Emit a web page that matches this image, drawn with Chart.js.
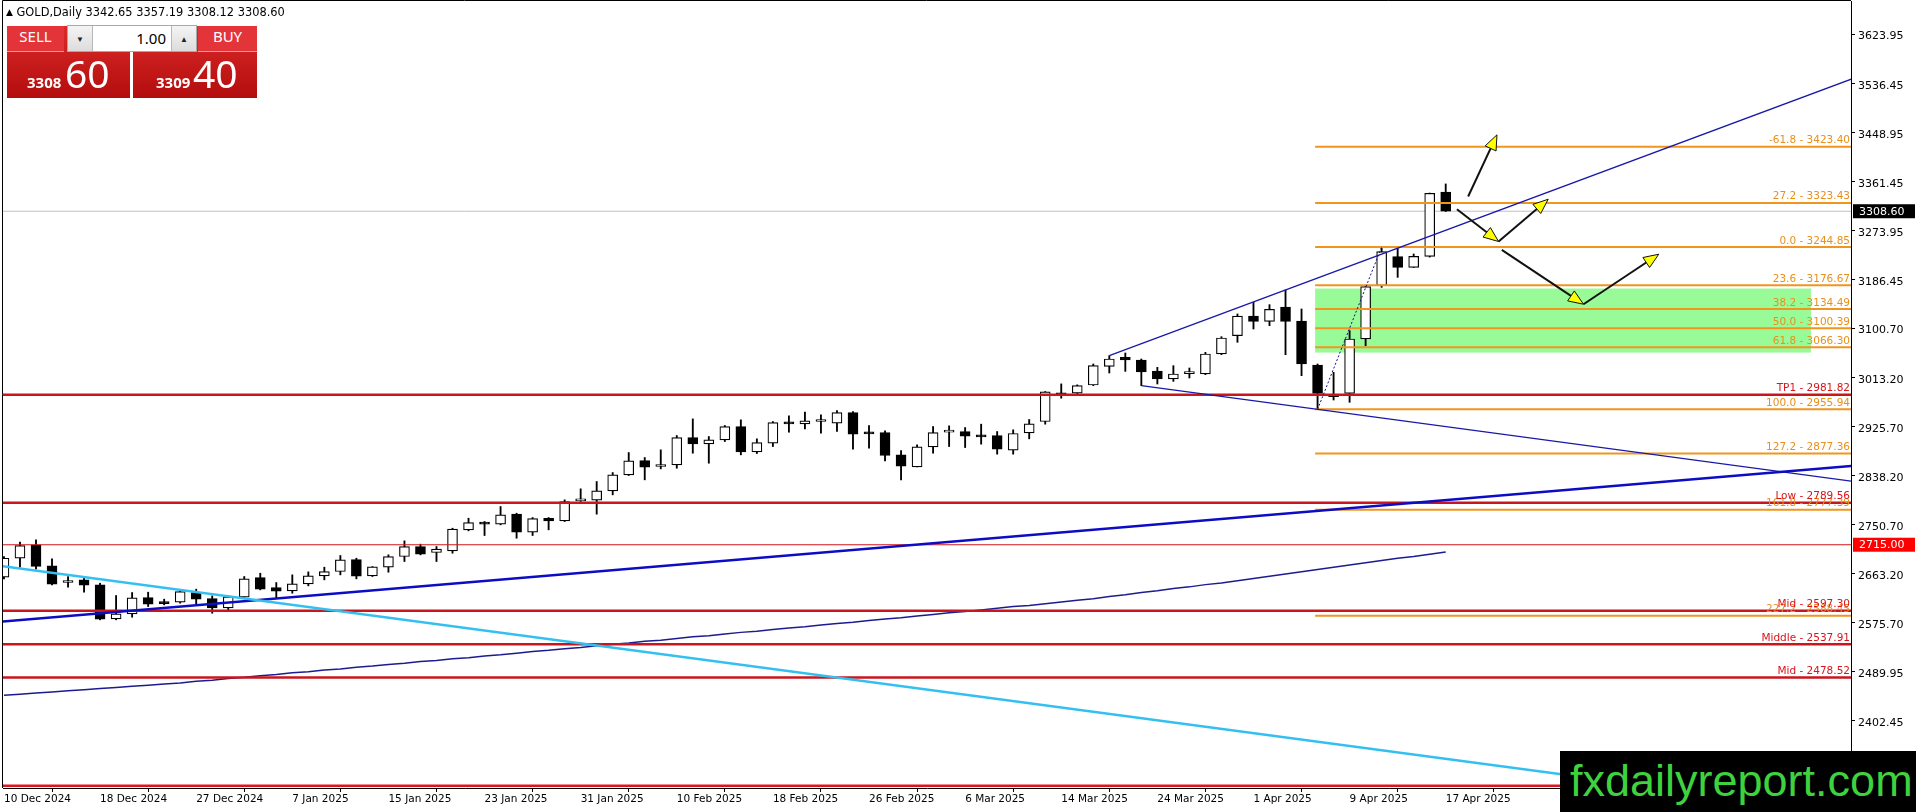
<!DOCTYPE html>
<html>
<head>
<meta charset="utf-8">
<title>GOLD Daily</title>
<script src="https://cdn.jsdelivr.net/npm/chart.js@4.4.1/dist/chart.umd.min.js"></script>
<style>
  html, body { margin: 0; padding: 0; background: #fff; }
  #wrap { position: relative; width: 1916px; height: 812px; overflow: hidden; }
  #myChart { position: absolute; left: 0; top: 0; }
  .hdr { position: absolute; left: 6px; top: 5px; font: 11.4px "DejaVu Sans"; color: #000; white-space: nowrap; }
  .hdr .tri { font-size: 9px; vertical-align: 1px; }
  .pbox { position: absolute; top: 26px; height: 72px; background: linear-gradient(#dc2a2a, #b30d0d); color: #fff; font-family: "Noto Sans"; }
  .pbox .small { position: absolute; top: 49px; font-weight: bold; font-size: 15px; line-height: 1; }
  .pbox .big { position: absolute; top: 27px; font-size: 39px; line-height: 1; }
  .lbl { position: absolute; top: 26px; height: 25px; line-height: 25px; background: #e3343a; color: #fff; font: 15px "Noto Sans"; text-align: center; border-bottom: 1px solid #f29a9a; }
  .spin { position: absolute; left: 67px; top: 25px; width: 128px; height: 25px; background: #fff; border: 1px solid #a8a8a8; font-family: "Noto Sans"; }
  .spin .btn { position: absolute; top: 0; width: 24px; height: 25px; background: linear-gradient(#f4f4f4, #dcdcdc); color: #222; font-size: 8px; line-height: 25px; text-align: center; }
  .spin .dn { left: 0; border-right: 1px solid #b8b8b8; }
  .spin .up { right: 0; border-left: 1px solid #b8b8b8; }
  .spin .val { position: absolute; right: 30px; top: 0; font-size: 15px; line-height: 25px; color: #000; }
  .mark { position: absolute; left: 1560px; top: 751px; width: 356px; height: 61px; background: #000; overflow: hidden; }
  .mark span { position: absolute; left: 10px; top: 7px; font: 45px "Liberation Sans"; line-height: 1; color: #3fd23f; white-space: nowrap; }
</style>
</head>
<body>
<div id="wrap">
  <canvas id="myChart" width="1916" height="812"></canvas>
  <div class="hdr"><span class="tri">▲</span> GOLD,Daily 3342.65 3357.19 3308.12 3308.60</div>
  <div class="pbox" style="left:7px;width:123px"><span class="small" style="left:20px">3308</span><span class="big" style="left:58px">60</span></div>
  <div class="pbox" style="left:133px;width:124px"><span class="small" style="left:23px">3309</span><span class="big" style="left:60px">40</span></div>
  <div class="lbl" style="left:7px;width:57px">SELL</div>
  <div class="lbl" style="left:198px;width:59px">BUY</div>
  <div class="spin"><div class="btn dn">▼</div><div class="val">1.00</div><div class="btn up">▲</div></div>
  <div class="mark"><span>fxdailyreport.com</span></div>
</div>
<script>
// 거래일 (daily bars)
var dates = [
  "10 Dec 2024", "11 Dec 2024", "12 Dec 2024", "13 Dec 2024", "16 Dec 2024", "17 Dec 2024", "18 Dec 2024",
  "19 Dec 2024", "20 Dec 2024", "23 Dec 2024", "24 Dec 2024", "26 Dec 2024", "27 Dec 2024", "30 Dec 2024",
  "31 Dec 2024", "2 Jan 2025", "3 Jan 2025", "6 Jan 2025", "7 Jan 2025", "8 Jan 2025", "9 Jan 2025",
  "10 Jan 2025", "13 Jan 2025", "14 Jan 2025", "15 Jan 2025", "16 Jan 2025", "17 Jan 2025", "20 Jan 2025",
  "21 Jan 2025", "22 Jan 2025", "23 Jan 2025", "24 Jan 2025", "27 Jan 2025", "28 Jan 2025", "29 Jan 2025",
  "30 Jan 2025", "31 Jan 2025", "3 Feb 2025", "4 Feb 2025", "5 Feb 2025", "6 Feb 2025", "7 Feb 2025",
  "10 Feb 2025", "11 Feb 2025", "12 Feb 2025", "13 Feb 2025", "14 Feb 2025", "17 Feb 2025", "18 Feb 2025",
  "19 Feb 2025", "20 Feb 2025", "21 Feb 2025", "24 Feb 2025", "25 Feb 2025", "26 Feb 2025", "27 Feb 2025",
  "28 Feb 2025", "3 Mar 2025", "4 Mar 2025", "5 Mar 2025", "6 Mar 2025", "7 Mar 2025", "10 Mar 2025",
  "11 Mar 2025", "12 Mar 2025", "13 Mar 2025", "14 Mar 2025", "17 Mar 2025", "18 Mar 2025", "19 Mar 2025",
  "20 Mar 2025", "21 Mar 2025", "24 Mar 2025", "25 Mar 2025", "26 Mar 2025", "27 Mar 2025", "28 Mar 2025",
  "31 Mar 2025", "1 Apr 2025", "2 Apr 2025", "3 Apr 2025", "4 Apr 2025", "7 Apr 2025", "8 Apr 2025",
  "9 Apr 2025", "10 Apr 2025", "11 Apr 2025", "14 Apr 2025", "15 Apr 2025", "16 Apr 2025", "17 Apr 2025"
];

var open = [
  2657.2, 2691.0, 2714.8, 2677.4, 2647.7, 2652.5, 2643.6, 2583.1, 2592.0, 2621.0,
  2613.3, 2612.7, 2629.9, 2619.3, 2602.6, 2621.6, 2656.6, 2638.8, 2632.9, 2645.4,
  2659.6, 2667.3, 2688.7, 2659.6, 2675.0, 2694.0, 2711.8, 2701.1, 2704.1, 2741.5,
  2754.5, 2751.6, 2769.4, 2737.3, 2762.2, 2757.5, 2793.1, 2794.3, 2810.9, 2839.4,
  2864.9, 2854.2, 2857.2, 2905.8, 2894.6, 2901.7, 2925.4, 2880.3, 2895.7, 2931.3,
  2930.2, 2934.3, 2931.3, 2950.3, 2914.1, 2914.7, 2875.0, 2853.6, 2889.2, 2915.3,
  2916.5, 2909.4, 2909.4, 2883.3, 2914.1, 2934.3, 2985.3, 2984.7, 2999.3, 3032.5,
  3048.6, 3043.8, 3024.2, 3010.0, 3019.5, 3018.9, 3054.5, 3087.1, 3122.1, 3112.6,
  3138.1, 3113.2, 3034.9, 2981.5, 2984.5, 3081.2, 3176.1, 3227.7, 3208.7, 3228.3,
  3342.65
];
var high = [
  2694.0, 2719.5, 2723.7, 2689.8, 2658.4, 2655.4, 2646.5, 2624.6, 2629.9, 2630.5,
  2618.1, 2633.5, 2635.9, 2624.0, 2624.0, 2658.4, 2664.3, 2647.7, 2661.4, 2666.7,
  2675.0, 2695.8, 2691.0, 2676.2, 2697.0, 2721.9, 2716.0, 2711.8, 2744.4, 2762.2,
  2756.3, 2783.0, 2771.1, 2763.4, 2763.4, 2794.9, 2814.5, 2827.5, 2843.5, 2879.1,
  2870.2, 2883.9, 2909.4, 2939.0, 2907.6, 2927.2, 2937.3, 2903.5, 2934.3, 2944.4,
  2950.9, 2946.2, 2953.9, 2952.1, 2927.2, 2917.7, 2882.7, 2892.8, 2925.4, 2926.6,
  2923.6, 2929.6, 2916.5, 2919.5, 2937.9, 2987.7, 3001.3, 2999.6, 3036.7, 3051.5,
  3056.3, 3045.6, 3030.7, 3033.7, 3029.6, 3057.4, 3085.3, 3125.7, 3146.4, 3142.3,
  3168.4, 3134.6, 3036.7, 3021.9, 3096.0, 3176.1, 3244.85, 3243.1, 3232.5, 3341.0,
  3357.19
];
var low = [
  2654.3, 2675.0, 2671.5, 2643.6, 2639.4, 2630.5, 2581.3, 2581.3, 2586.0, 2605.0,
  2608.0, 2611.0, 2608.0, 2593.1, 2599.1, 2619.8, 2634.7, 2619.8, 2628.7, 2641.8,
  2652.5, 2661.4, 2654.3, 2658.4, 2666.1, 2685.1, 2697.0, 2685.1, 2699.9, 2739.7,
  2731.4, 2750.4, 2726.6, 2731.4, 2741.5, 2756.3, 2791.9, 2769.4, 2803.8, 2838.2,
  2830.5, 2850.0, 2851.2, 2877.9, 2860.1, 2898.7, 2875.0, 2877.3, 2889.8, 2915.3,
  2921.2, 2913.5, 2916.5, 2885.1, 2886.8, 2864.3, 2830.5, 2853.6, 2877.9, 2889.8,
  2888.0, 2894.0, 2876.2, 2876.2, 2903.5, 2929.6, 2975.8, 2981.8, 2998.1, 3020.7,
  3023.6, 2998.1, 3001.1, 3005.8, 3011.8, 3017.7, 3053.3, 3075.3, 3099.0, 3104.9,
  3053.3, 3015.9, 2955.94, 2972.6, 2968.5, 3069.3, 3173.1, 3190.9, 3208.7, 3227.0,
  3308.12
];
var close = [
  2691.0, 2713.6, 2676.2, 2644.8, 2651.3, 2643.0, 2582.5, 2592.0, 2620.4, 2609.2,
  2610.3, 2631.7, 2618.1, 2602.6, 2622.2, 2654.3, 2635.9, 2632.3, 2645.4, 2659.6,
  2667.3, 2688.1, 2659.0, 2675.6, 2694.0, 2711.8, 2698.2, 2707.1, 2742.7, 2754.5,
  2751.6, 2768.2, 2737.3, 2761.6, 2757.5, 2791.9, 2796.7, 2810.9, 2839.4, 2864.3,
  2853.0, 2857.8, 2905.8, 2894.6, 2901.7, 2925.4, 2880.3, 2896.9, 2932.5, 2930.2,
  2935.5, 2935.5, 2950.3, 2911.8, 2912.4, 2873.8, 2854.8, 2889.2, 2914.7, 2916.5,
  2908.2, 2907.0, 2885.1, 2913.0, 2930.2, 2987.1, 2981.2, 2998.4, 3033.7, 3045.6,
  3043.8, 3022.4, 3010.0, 3018.9, 3020.7, 3054.5, 3083.0, 3122.1, 3112.6, 3134.0,
  3112.6, 3036.7, 2984.5, 2978.5, 3081.2, 3174.3, 3236.6, 3208.7, 3228.3, 3340.5,
  3308.60
];

// 이동평균선
var ma = [
  2447, 2449, 2451, 2453, 2455, 2457, 2459, 2461, 2463, 2465,
  2467, 2469, 2472, 2474, 2477, 2479, 2482, 2484, 2487, 2489,
  2492, 2494, 2497, 2499, 2502, 2504, 2507, 2509, 2512, 2514,
  2517, 2519, 2522, 2525, 2527, 2530, 2532, 2535, 2538, 2540,
  2543, 2545, 2548, 2551, 2553, 2556, 2559, 2561, 2564, 2567,
  2569, 2572, 2575, 2577, 2580, 2583, 2585, 2588, 2591, 2594,
  2596, 2599, 2602, 2605, 2607, 2610, 2613, 2616, 2619, 2623,
  2626, 2630, 2633, 2637, 2640, 2644, 2647, 2651, 2655, 2659,
  2663, 2667, 2671, 2675, 2679, 2683, 2687, 2691, 2694, 2698,
  2702
];

var priceTicks = [3623.95, 3536.45, 3448.95, 3361.45, 3273.95, 3186.45, 3100.70, 3013.20,
  2925.70, 2838.20, 2750.70, 2663.20, 2575.70, 2489.95, 2402.45, 2314.95];

// 피보나치
var fibRatios = [-61.8, 27.2, 0.0, 23.6, 38.2, 50.0, 61.8, 100.0, 127.2, 161.8, 227.2];
var fibValues = [3423.40, 3323.43, 3244.85, 3176.67, 3134.49, 3100.39, 3066.30, 2955.94, 2877.36, 2777.39, 2588.45];

// 수평선
var redNames = ["TP1", "Low", "Mid", "Middle", "Mid"];
var redValues = [2981.82, 2789.56, 2597.30, 2537.91, 2478.52];
var plainRed = [2285.80];
var markLevel = 2715.00;
var lastPrice = 3308.60;
var zoneTop = 3171, zoneBottom = 3057;

// 추세선 앵커 (bar index, price)
var cyanLine = [[0, 2676.4], [97.5, 2305.4]];
var blueLine = [[0, 2578.3], [115.3, 2855.0]];
var channelTop = [[69, 3051.5], [80, 3168.4]];
var channelLow = [[71, 2998.1], [82, 2955.94]];
var fibLeg = [[82, 2955.94], [86, 3244.85]];
var arrows = [
  [[91.4, 3334.8], [93.2, 3444.6]],
  [[90.7, 3312.2], [93.3, 3254.7]],
  [[93.3, 3254.7], [96.4, 3330.0]],
  [[93.5, 3239.9], [98.6, 3143.1]],
  [[98.6, 3143.1], [103.3, 3232.1]]
];

var X_MIN = -0.06, X_MAX = 115.3, FIB_START = 81.85, ZONE_END = 112.8;
var tickIdx = dates.map(function (d, i) { return i; }).filter(function (i) { return i % 6 === 0; });

function ray(p, q, from, to) {
  var k = (q[1] - p[1]) / (q[0] - p[0]);
  return [{ x: from, y: p[1] + k * (from - p[0]) }, { x: to, y: p[1] + k * (to - p[0]) }];
}
function hline(v, from) {
  return [{ x: from, y: v }, { x: X_MAX + 1, y: v }];
}
function lineSet(data, color, width, order, dash) {
  return { type: "line", data: data, borderColor: color, borderWidth: width, borderDash: dash || [],
    pointRadius: 0, tension: 0, fill: false, order: order };
}

var datasets = [];
// 캔들
datasets.push({
  type: "bar", data: dates.map(function (d, i) { return { x: i, y: [low[i], high[i]] }; }),
  barThickness: 1.2, backgroundColor: "#000", grouped: false, order: 21
});
datasets.push({
  type: "bar", data: dates.map(function (d, i) { return { x: i, y: [open[i], close[i]] }; }),
  barThickness: 10, minBarLength: 2, grouped: false, order: 20,
  backgroundColor: function (c) { return close[c.dataIndex] >= open[c.dataIndex] ? "#fff" : "#000"; },
  borderColor: "#000", borderWidth: 1.2, borderSkipped: false
});
datasets.push(lineSet(hline(lastPrice, X_MIN - 1), "#c0c0c0", 1, 22));
datasets.push(lineSet(ma.map(function (v, i) { return { x: i, y: v }; }), "#1c1c90", 1.5, 5));
redValues.forEach(function (v) { datasets.push(lineSet(hline(v, X_MIN - 1), "#c8161c", 2.5, 4)); });
plainRed.forEach(function (v) { datasets.push(lineSet(hline(v, X_MIN - 1), "#e0141c", 2.5, 4)); });
datasets.push(lineSet(hline(markLevel, X_MIN - 1), "#d0161c", 1.2, 4));
fibValues.forEach(function (v) { datasets.push(lineSet(hline(v, FIB_START), "#f0961e", 2, 3)); });
datasets.push(lineSet(ray(cyanLine[0], cyanLine[1], X_MIN - 1, X_MAX + 1), "#33c0f0", 2.5, 2));
datasets.push(lineSet(ray(blueLine[0], blueLine[1], X_MIN - 1, X_MAX + 1), "#0c0cc4", 2.5, 2));
datasets.push(lineSet(ray(channelTop[0], channelTop[1], channelTop[0][0], X_MAX + 1), "#1818a8", 1.2, 2));
datasets.push(lineSet(ray(channelLow[0], channelLow[1], channelLow[0][0], X_MAX + 1), "#1818a8", 1.2, 2));
datasets.push(lineSet([{ x: fibLeg[0][0], y: fibLeg[0][1] }, { x: fibLeg[1][0], y: fibLeg[1][1] }], "#101080", 1, 1, [2, 2]));

var overlay = {
  id: "overlay",
  beforeDatasetsDraw: function (chart) {
    var ctx = chart.ctx, x = chart.scales.x, y = chart.scales.y;
    var x0 = x.getPixelForValue(FIB_START), x1 = x.getPixelForValue(ZONE_END);
    var y0 = y.getPixelForValue(zoneTop), y1 = y.getPixelForValue(zoneBottom);
    ctx.save();
    ctx.fillStyle = "#98fb98";
    ctx.fillRect(x0, y0, x1 - x0, y1 - y0);
    ctx.restore();
  },
  afterDatasetsDraw: function (chart) {
    var ctx = chart.ctx, a = chart.chartArea, x = chart.scales.x, y = chart.scales.y;
    ctx.save();
    ctx.font = "10.5px 'DejaVu Sans'";
    ctx.textAlign = "right";
    ctx.textBaseline = "bottom";
    ctx.fillStyle = "#e8901c";
    fibValues.forEach(function (v, i) {
      ctx.fillText(fibRatios[i].toFixed(1) + " - " + v.toFixed(2), a.right - 1, y.getPixelForValue(v) - 1);
    });
    ctx.fillStyle = "#d8141c";
    redValues.forEach(function (v, i) {
      ctx.fillText(redNames[i] + " - " + v.toFixed(2), a.right - 1, y.getPixelForValue(v) - 1);
    });
    // 화살표
    arrows.forEach(function (ar) {
      var px0 = x.getPixelForValue(ar[0][0]), py0 = y.getPixelForValue(ar[0][1]);
      var px1 = x.getPixelForValue(ar[1][0]), py1 = y.getPixelForValue(ar[1][1]);
      var ang = Math.atan2(py1 - py0, px1 - px0), L = 15, W = 6;
      var bx = px1 - L * Math.cos(ang), by = py1 - L * Math.sin(ang);
      ctx.strokeStyle = "#111";
      ctx.lineWidth = 2;
      ctx.beginPath(); ctx.moveTo(px0, py0); ctx.lineTo(bx, by); ctx.stroke();
      ctx.beginPath();
      ctx.moveTo(px1, py1);
      ctx.lineTo(bx + W * Math.sin(ang), by - W * Math.cos(ang));
      ctx.lineTo(bx - W * Math.sin(ang), by + W * Math.cos(ang));
      ctx.closePath();
      ctx.fillStyle = "#ffff00";
      ctx.fill();
      ctx.lineWidth = 1;
      ctx.stroke();
    });
    ctx.restore();
  },
  afterDraw: function (chart) {
    var ctx = chart.ctx, a = chart.chartArea, y = chart.scales.y;
    ctx.save();
    ctx.strokeStyle = "#000";
    ctx.lineWidth = 1;
    ctx.beginPath();
    ctx.moveTo(2.5, a.bottom); ctx.lineTo(2.5, 0.5); ctx.lineTo(a.right, 0.5);
    ctx.stroke();
    ctx.font = "11px 'DejaVu Sans'";
    ctx.textBaseline = "middle";
    [[lastPrice, "#000"], [markLevel, "#ff0000"]].forEach(function (b) {
      var py = y.getPixelForValue(b[0]);
      ctx.fillStyle = b[1];
      ctx.fillRect(a.right + 2, py - 7, 62, 14);
      ctx.fillStyle = "#fff";
      ctx.fillText(b[0].toFixed(2), a.right + 8, py + 0.5);
    });
    ctx.restore();
  }
};

var ctx = document.getElementById("myChart").getContext("2d");
var chart = new Chart(ctx, {
  type: "bar",
  data: { datasets: datasets },
  options: {
    responsive: false,
    animation: false,
    devicePixelRatio: 1,
    layout: { padding: { left: 3, top: 1, right: 0, bottom: 0 } },
    plugins: { legend: { display: false }, tooltip: { enabled: false } },
    scales: {
      x: {
        type: "linear", min: X_MIN, max: X_MAX, offset: false,
        grid: { drawOnChartArea: false, drawTicks: true, tickLength: 4, color: "#000" },
        border: { display: true, color: "#000" },
        ticks: {
          align: "start", maxRotation: 0, autoSkip: false, padding: 1, color: "#000",
          font: { family: "DejaVu Sans", size: 10.5 },
          callback: function (v) { return dates[v] || ""; }
        },
        afterBuildTicks: function (s) { s.ticks = tickIdx.map(function (v) { return { value: v }; }); },
        afterFit: function (s) { s.height = 24; s.paddingLeft = 0; s.paddingRight = 0; }
      },
      y: {
        position: "right", min: 2282.0, max: 3682.8,
        grid: { drawOnChartArea: false, drawTicks: true, tickLength: 4, color: "#000" },
        border: { display: true, color: "#000" },
        ticks: {
          padding: 3, labelOffset: 2.5, color: "#000", font: { family: "DejaVu Sans", size: 11 },
          callback: function (v) { return v.toFixed(2); }
        },
        afterBuildTicks: function (s) { s.ticks = priceTicks.map(function (v) { return { value: v }; }); },
        afterFit: function (s) { s.width = 65; s.paddingTop = 0; s.paddingBottom = 0; }
      }
    }
  },
  plugins: [overlay]
});
</script>
</body>
</html>
